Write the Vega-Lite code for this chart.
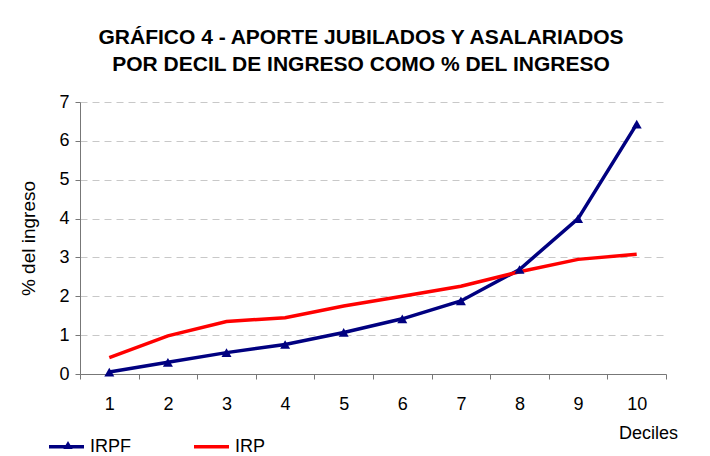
{
  "$schema": "https://vega.github.io/schema/vega-lite/v6.json",
  "autosize": "none",
  "width": 586,
  "height": 272,
  "padding": {"left": 80, "top": 102, "right": 44, "bottom": 82},
  "background": "white",
  "config": {
    "font": "Liberation Sans",
    "view": {"stroke": null}
  },
  "title": {
    "text": ["GRÁFICO 4 - APORTE JUBILADOS Y ASALARIADOS", "POR DECIL DE INGRESO COMO % DEL INGRESO"],
    "fontSize": 21,
    "fontWeight": "bold",
    "font": "Liberation Sans",
    "color": "black",
    "anchor": "middle",
    "dx": -12,
    "offset": 18,
    "lineHeight": 27
  },
  "data": {
    "values": [
      {"decil": 1, "serie": "IRPF", "valor": 0.05},
      {"decil": 2, "serie": "IRPF", "valor": 0.3},
      {"decil": 3, "serie": "IRPF", "valor": 0.55},
      {"decil": 4, "serie": "IRPF", "valor": 0.76},
      {"decil": 5, "serie": "IRPF", "valor": 1.07},
      {"decil": 6, "serie": "IRPF", "valor": 1.42},
      {"decil": 7, "serie": "IRPF", "valor": 1.88},
      {"decil": 8, "serie": "IRPF", "valor": 2.69},
      {"decil": 9, "serie": "IRPF", "valor": 4.0},
      {"decil": 10, "serie": "IRPF", "valor": 6.43},
      {"decil": 1, "serie": "IRP", "valor": 0.42},
      {"decil": 2, "serie": "IRP", "valor": 0.98},
      {"decil": 3, "serie": "IRP", "valor": 1.35},
      {"decil": 4, "serie": "IRP", "valor": 1.45},
      {"decil": 5, "serie": "IRP", "valor": 1.75},
      {"decil": 6, "serie": "IRP", "valor": 2.0},
      {"decil": 7, "serie": "IRP", "valor": 2.26},
      {"decil": 8, "serie": "IRP", "valor": 2.63},
      {"decil": 9, "serie": "IRP", "valor": 2.95},
      {"decil": 10, "serie": "IRP", "valor": 3.08}
    ]
  },
  "encoding": {
    "x": {
      "field": "decil",
      "type": "ordinal",
      "scale": {"paddingInner": 0, "paddingOuter": 0},
      "axis": {
        "title": "Deciles",
        "titleFontSize": 18,
        "titleFontWeight": "normal",
        "titleColor": "black",
        "titleX": 568,
        "titleY": 59,
        "titleAlign": "center",
        "titleBaseline": "middle",
        "labelAngle": 0,
        "labelFontSize": 18,
        "labelColor": "black",
        "labelPadding": 16,
        "tickBand": "extent",
        "tickSize": 5,
        "tickColor": "#777777",
        "domainColor": "#777777",
        "grid": false
      }
    },
    "y": {
      "field": "valor",
      "type": "quantitative",
      "scale": {"domain": [0, 7], "nice": false},
      "axis": {
        "title": "% del ingreso",
        "titleFontSize": 19,
        "titleFontWeight": "normal",
        "titleColor": "black",
        "titleX": -52,
        "titleY": 136,
        "titleAlign": "center",
        "titleBaseline": "middle",
        "values": [0, 1, 2, 3, 4, 5, 6, 7],
        "labelFontSize": 18,
        "labelColor": "black",
        "labelPadding": 6,
        "tickSize": 5,
        "tickColor": "#777777",
        "domainColor": "#777777",
        "grid": true,
        "gridColor": "#c8c8c8",
        "gridDash": [7, 5],
        "gridWidth": 1
      }
    }
  },
  "layer": [
    {
      "mark": {"type": "line", "strokeWidth": 3.5},
      "encoding": {
        "color": {
          "field": "serie",
          "type": "nominal",
          "scale": {"domain": ["IRPF", "IRP"], "range": ["#000080", "#ff0000"]},
          "legend": {
            "title": null,
            "orient": "none",
            "legendX": -33,
            "legendY": 325,
            "direction": "horizontal",
            "padding": 0,
            "symbolType": "stroke",
            "symbolSize": 1225,
            "symbolStrokeWidth": 3.5,
            "labelFontSize": 18,
            "labelColor": "black",
            "labelOffset": 4,
            "columnPadding": 55
          }
        }
      }
    },
    {
      "transform": [{"filter": "datum.serie === 'IRPF'"}],
      "mark": {"type": "point", "filled": true, "color": "#000080", "opacity": 1, "size": 100},
      "encoding": {
        "shape": {
          "field": "serie",
          "type": "nominal",
          "scale": {"range": ["triangle-up"]},
          "legend": {
            "title": null,
            "orient": "none",
            "legendX": -21,
            "legendY": 334,
            "padding": 0,
            "symbolSize": 90,
            "symbolFillColor": "#000080",
            "symbolStrokeColor": "#000080",
            "symbolStrokeWidth": 0,
            "labelExpr": "''",
            "labelFontSize": 18
          }
        }
      }
    }
  ]
}
